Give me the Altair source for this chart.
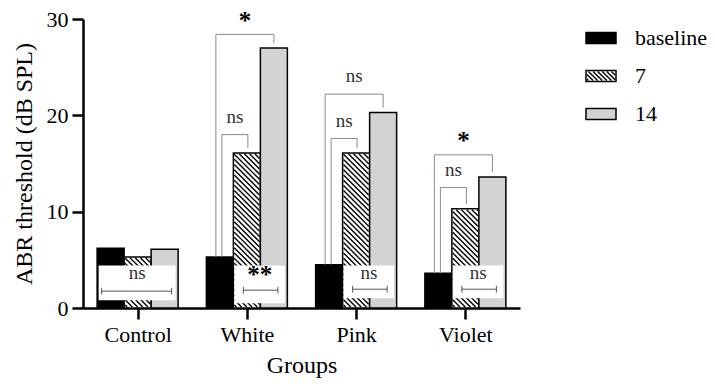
import json
import math
import altair as alt
import pandas as pd

# ---------------- data ----------------
groups = ["Control", "White", "Pink", "Violet"]
series = ["baseline", "7", "14"]
baseline = [6.2, 5.3, 4.5, 3.6]
day7 = [5.3, 16.1, 16.1, 10.3]
day14 = [6.1, 27.0, 20.3, 13.6]

# significance brackets (baseline vs 14 = outer, baseline vs 7 = inner)
bracket_groups = ["White", "Pink", "Violet"]
outer_top = [28.4, 22.2, 15.9]
outer_label = ["*", "ns", "*"]
inner_top = [18.0, 17.6, 12.5]
inner_label = ["ns", "ns", "ns"]

# inset comparison boxes (7 vs 14)
box_label = ["ns", "**", "ns", "ns"]
box_low = [0.8, 0.5, 1.0, 1.0]
box_high = [4.4, 4.4, 4.4, 4.4]
errbar_y = [1.75, 1.85, 1.95, 1.95]

# ---------------- layout ----------------
W, H, YMAX = 437, 289, 30
PX = W / len(groups)          # px per group unit
PY = H / YMAX                 # px per y unit
BW = 27 / PX                  # bar width in group units
FONT = "Liberation Serif"
fills = ["#000000", "#ffffff", "#d3d3d3"]
values = [baseline, day7, day14]
TOP = 11


def hatch(xl, xr, yb, yt, step=5.2):
    pl, pr = xl * PX + 0.9, xr * PX - 0.9
    ub, ut = yb * PY + 0.9, yt * PY - 0.9
    h = ut - ub
    segs = []
    if h <= 0:
        return segs
    for n in range(math.ceil(pl / step), math.floor((pr + h) / step) + 1):
        k = n * step
        a = max(pl, k - h)
        b = min(pr, k)
        if b - a < 0.4:
            continue
        segs.append(dict(x=a / PX, x2=b / PX, y=(ub + k - a) / PY, y2=(ub + k - b) / PY))
    return segs


# bars
bar_rows, hatch_rows = [], []
for i, g in enumerate(groups):
    for j, s in enumerate(series):
        left = i + (j - 1.5) * BW
        bar_rows.append(dict(group=g, series=s, x=left, x2=left + BW, y=0.0, y2=values[j][i]))
        if s == "7":
            hatch_rows += hatch(left, left + BW, 0.0, values[j][i])
bars_df = pd.DataFrame(bar_rows)

# legend (placed to the right of the plot area); page y centres 38, 76, 114
leg_rows, leg_text = [], []
for j, s in enumerate(series):
    cy = 38 + 38 * j - (8 + TOP)
    x0 = -0.5 + 503 / PX
    x1 = -0.5 + 533 / PX
    y0 = YMAX - (cy + 5.5) / PY
    y1 = YMAX - (cy - 5.5) / PY
    leg_rows.append(dict(series=s, x=x0, x2=x1, y=y0, y2=y1))
    leg_text.append(dict(label=s, x=-0.5 + 552 / PX, y=YMAX - cy / PY))
    if s == "7":
        hatch_rows += hatch(x0, x1, y0, y1, step=4.6)
leg_df = pd.DataFrame(leg_rows)
leg_text_df = pd.DataFrame(leg_text)
hatch_df = pd.DataFrame(hatch_rows)

# brackets
br_rows, br_text = [], []
for k, g in enumerate(bracket_groups):
    i = groups.index(g)
    b0 = baseline[i]
    cx0 = i - BW
    o_l, o_r = cx0 - 4 / PX, i + BW
    n_l, n_r = cx0 + 2 / PX, i + 1 / PX
    for l, r, top, target, lab in [
        (o_l, o_r, outer_top[k], day14[i], outer_label[k]),
        (n_l, n_r, inner_top[k], day7[i], inner_label[k]),
    ]:
        br_rows.append(dict(x=l, x2=r, y=top, y2=top))
        br_rows.append(dict(x=l, x2=l, y=b0, y2=top))
        br_rows.append(dict(x=r, x2=r, y=target + 0.5, y2=top))
        star = lab.startswith("*")
        br_text.append(dict(label=lab, x=(l + r) / 2, y=top + (1.6 if star else 1.85), star=star))
br_df = pd.DataFrame(br_rows)

# inset boxes
box_rows, box_text, eb_rows = [], [], []
for i, g in enumerate(groups):
    if i == 0:
        bl = i - 1.5 * BW + 1.5 / PX
        el, er = bl + 3 / PX, i + 1.5 * BW - 6.5 / PX
    else:
        bl = i - 0.5 * BW + 1 / PX
        el, er = bl + 9 / PX, i + 1.5 * BW - 9.5 / PX
    br_ = i + 1.5 * BW - 2.5 / PX
    box_rows.append(dict(x=bl, x2=br_, y=box_low[i], y2=box_high[i]))
    box_text.append(dict(label=box_label[i], x=(bl + br_) / 2, y=3.65, star=box_label[i].startswith("*")))
    ey = errbar_y[i]
    eb_rows.append(dict(x=el, x2=er, y=ey, y2=ey))
    eb_rows.append(dict(x=el, x2=el, y=ey - 0.35, y2=ey + 0.35))
    eb_rows.append(dict(x=er, x2=er, y=ey - 0.35, y2=ey + 0.35))
box_df = pd.DataFrame(box_rows)
text_df = pd.DataFrame(box_text + br_text)
eb_df = pd.DataFrame(eb_rows)

# ---------------- chart ----------------
label_expr = json.dumps(groups) + "[datum.value]"
x_axis = alt.Axis(
    values=list(range(len(groups))), labelExpr=label_expr, title="Groups", grid=False,
    domainColor="black", domainWidth=2.5, tickColor="black", tickWidth=2.5, tickSize=11,
    labelFont=FONT, labelFontSize=22, labelColor="black", labelPadding=5,
    titleFont=FONT, titleFontSize=24, titleFontWeight="normal", titleColor="black", titlePadding=8,
)
y_axis = alt.Axis(
    values=[0, 10, 20, 30], title="ABR threshold (dB SPL)", grid=False,
    domainColor="black", domainWidth=2.5, tickColor="black", tickWidth=2.5, tickSize=11,
    labelFont=FONT, labelFontSize=22, labelColor="black", labelPadding=4,
    titleFont=FONT, titleFontSize=24, titleFontWeight="normal", titleColor="black", titlePadding=10,
)
xs = alt.Scale(domain=[-0.5, len(groups) - 0.5])
ys = alt.Scale(domain=[0, YMAX])
color = alt.Color("series:N", scale=alt.Scale(domain=series, range=fills), legend=None)

bars = alt.Chart(bars_df).mark_rect(stroke="black", strokeWidth=1.5).encode(
    x=alt.X("x:Q", scale=xs, axis=x_axis), x2="x2:Q",
    y=alt.Y("y:Q", scale=ys, axis=y_axis), y2="y2:Q", color=color,
)
legend_sw = alt.Chart(leg_df).mark_rect(stroke="black", strokeWidth=1.5).encode(
    x="x:Q", x2="x2:Q", y="y:Q", y2="y2:Q", color=color,
)
hatch_l = alt.Chart(hatch_df).mark_rule(color="black", strokeWidth=1.4).encode(
    x="x:Q", x2="x2:Q", y="y:Q", y2="y2:Q",
)
boxes = alt.Chart(box_df).mark_rect(color="white").encode(
    x="x:Q", x2="x2:Q", y="y:Q", y2="y2:Q",
)
errbars = alt.Chart(eb_df).mark_rule(color="#555555", strokeWidth=1).encode(
    x="x:Q", x2="x2:Q", y="y:Q", y2="y2:Q",
)
brackets = alt.Chart(br_df).mark_rule(color="#8a8a8a", strokeWidth=1).encode(
    x="x:Q", x2="x2:Q", y="y:Q", y2="y2:Q",
)
ns_text = alt.Chart(text_df).transform_filter("!datum.star").mark_text(
    font=FONT, fontSize=19, color="#333333", baseline="middle", align="center",
).encode(x="x:Q", y="y:Q", text="label:N")
star_text = alt.Chart(text_df).transform_filter("datum.star").mark_text(
    font=FONT, fontSize=25, fontWeight="bold", color="black", baseline="top", align="center", dy=-10,
).encode(x="x:Q", y="y:Q", text="label:N")
legend_txt = alt.Chart(leg_text_df).mark_text(
    font=FONT, fontSize=22, color="black", baseline="middle", align="left",
).encode(x="x:Q", y="y:Q", text="label:N")

chart = alt.layer(
    bars, legend_sw, hatch_l, boxes, errbars, brackets, ns_text, star_text, legend_txt
).properties(
    width=W, height=H,
    autosize=alt.AutoSizeParams(type="none"),
    padding={"left": 75, "top": TOP, "right": 187, "bottom": 371 - TOP - H},
).configure_view(stroke=None)

chart.save("out.html", embed_options={"renderer": "svg", "actions": False})
